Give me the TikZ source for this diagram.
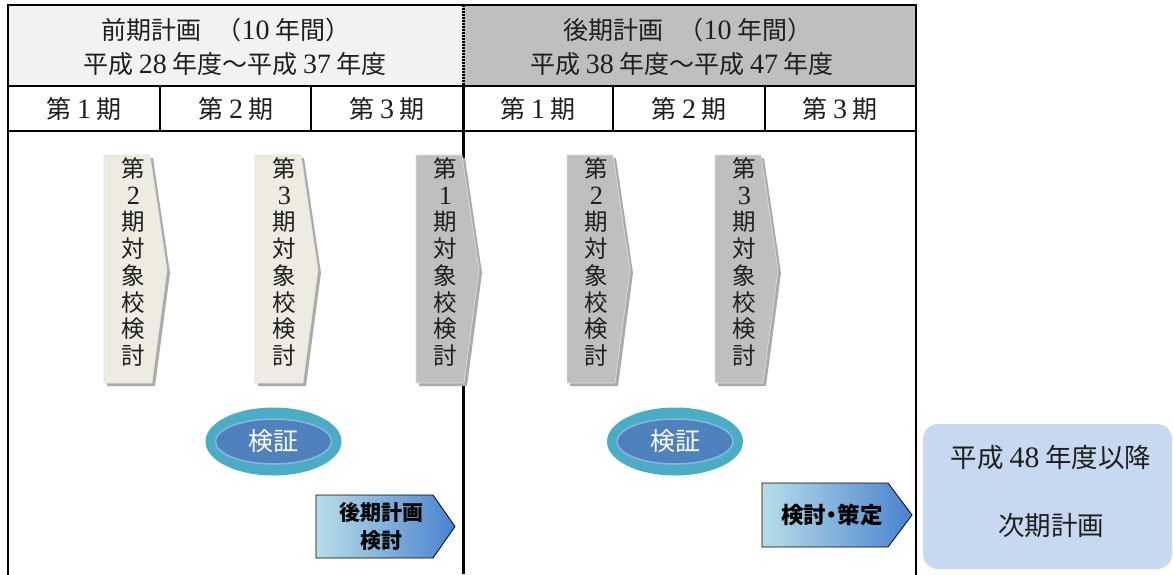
\documentclass[tikz,border=0pt]{standalone}
\usepackage{fontspec}
\setmainfont{Noto Sans CJK JP}
\newfontfamily\lat[Scale=1.12]{Liberation Serif}
\usetikzlibrary{shapes.geometric}
\definecolor{hdrL}{HTML}{F2F2F2}
\definecolor{hdrR}{HTML}{BFBFBF}
\definecolor{beige}{HTML}{EEECE1}
\definecolor{chgray}{HTML}{BFBFBF}
\definecolor{shadowc}{HTML}{ABABAB}
\definecolor{tealc}{HTML}{4BACC6}
\definecolor{bluec}{HTML}{4F81BD}
\definecolor{ringc}{HTML}{8DB3E2}
\definecolor{gradL}{HTML}{B7DEE8}
\definecolor{gradR}{HTML}{4A83CF}
\definecolor{nextc}{HTML}{C6D9F1}
\definecolor{txt}{HTML}{1E1E1E}
\tikzset{
  hdrtext/.style={text=txt,font=\fontsize{25}{28}\selectfont,inner sep=0pt},
  pertext/.style={text=txt,font=\fontsize{25}{28}\selectfont,inner sep=0pt},
  vtext/.style={align=center,text=txt,font=\fontsize{23.5}{26.7}\selectfont,inner sep=0pt},
  outerline/.style={line width=2pt,line cap=rect},
  rowline/.style={line width=1.5pt},
  colline/.style={line width=1.2pt},
  chevshadow/.style={fill=shadowc},
  chevbody/.style={draw=white!88!black,line width=0.6pt},
  outerell/.style={ellipse,fill=tealc,minimum width=136pt,minimum height=68pt,inner sep=0pt},
  innerell/.style={ellipse,fill=bluec,draw=ringc,line width=1.5pt,minimum width=116pt,minimum height=45pt,inner sep=0pt,text=white,font=\fontsize{25}{28}\selectfont},
  arrowbox/.style={draw=black,line width=0.8pt,left color=gradL,right color=gradR},
  arrowtext/.style={align=center,text=black,font=\bfseries\fontsize{21}{28}\selectfont,inner sep=0pt},
  nexttext/.style={text=txt,font=\fontsize{26.5}{30}\selectfont,inner sep=0pt}
}
\begin{document}
\begin{tikzpicture}[x=1pt,y=-1pt]
\useasboundingbox (0,0) rectangle (1173,574);
% header fills
\fill[hdrL] (8,5) rectangle (463,86);
\fill[hdrR] (463,5) rectangle (916,86);
% grid
\draw[outerline] (8,574) -- (8,5) -- (916,5) -- (916,574);
\draw[rowline] (8,86) -- (916,86);
\draw[rowline] (8,131) -- (916,131);
\foreach \cx in {160,311,613,765} \draw[colline] (\cx,86) -- (\cx,131);
\draw[line width=3pt] (463,86) -- (463,574);
\draw[line width=3pt,dash pattern=on 2pt off 1pt] (463,5) -- (463,86);
% header texts
\node[hdrtext] (hL1) at (226,30) {前期計画\hspace{0.6em}（{\lat 10} 年間）};
\node[hdrtext] (hL2) at (235,64) {平成 {\lat 28} 年度～平成 {\lat 37} 年度};
\node[hdrtext] (hR1) at (688,30) {後期計画\hspace{0.6em}（{\lat 10} 年間）};
\node[hdrtext] (hR2) at (682,64) {平成 {\lat 38} 年度～平成 {\lat 47} 年度};
% period labels
\node[pertext] (p1) at (84,109) {第 {\lat 1} 期};
\node[pertext] (p2) at (236,109) {第 {\lat 2} 期};
\node[pertext] (p3) at (387,109) {第 {\lat 3} 期};
\node[pertext] (p4) at (538,109) {第 {\lat 1} 期};
\node[pertext] (p5) at (689,109) {第 {\lat 2} 期};
\node[pertext] (p6) at (840,109) {第 {\lat 3} 期};
% vertical chevrons
\foreach \x/\c/\n/\i in {104/beige/2/a,255/beige/3/b,416/chgray/1/c,567/chgray/2/d,715/chgray/3/e}{
  \fill[chevshadow] ({\x+3},158) -- ({\x+49},158) -- ({\x+66},273) -- ({\x+51},386) -- ({\x+3},386) -- cycle;
  \filldraw[chevbody,fill=\c] (\x,155) -- ({\x+46},155) -- ({\x+63},270) -- ({\x+48},383) -- (\x,383) -- cycle;
  \node[vtext] (v\i) at ({\x+29.5},262) {第\\{\lat\n}\\期\\対\\象\\校\\検\\討};
}
% ellipses
\node[outerell] (e1o) at (273.5,441.5) {};
\node[innerell] (e1) at (273.5,441.5) {検証};
\node[outerell] (e2o) at (675,441.5) {};
\node[innerell] (e2) at (675,441.5) {検証};
% arrow boxes
\shade[arrowbox] (316,495) -- (433,495) -- (455,526.5) -- (433,558) -- (316,558) -- cycle;
\node[arrowtext] (a1) at (381,526.5) {後期計画\\検討};
\shade[arrowbox] (762,483) -- (888,483) -- (912,515) -- (888,547) -- (762,547) -- cycle;
\node[arrowtext,font=\bfseries\fontsize{22.5}{28}\selectfont] (a2) at (832,515) {検討\kern-0.25em・\kern-0.25em 策定};
% next plan
\fill[nextc,rounded corners=15pt] (923,424) rectangle (1172,569);
\node[nexttext] (n1) at (1051,457) {平成 {\lat 48} 年度以降};
\node[nexttext] (n2) at (1051,525) {次期計画};
\end{tikzpicture}
\end{document}
